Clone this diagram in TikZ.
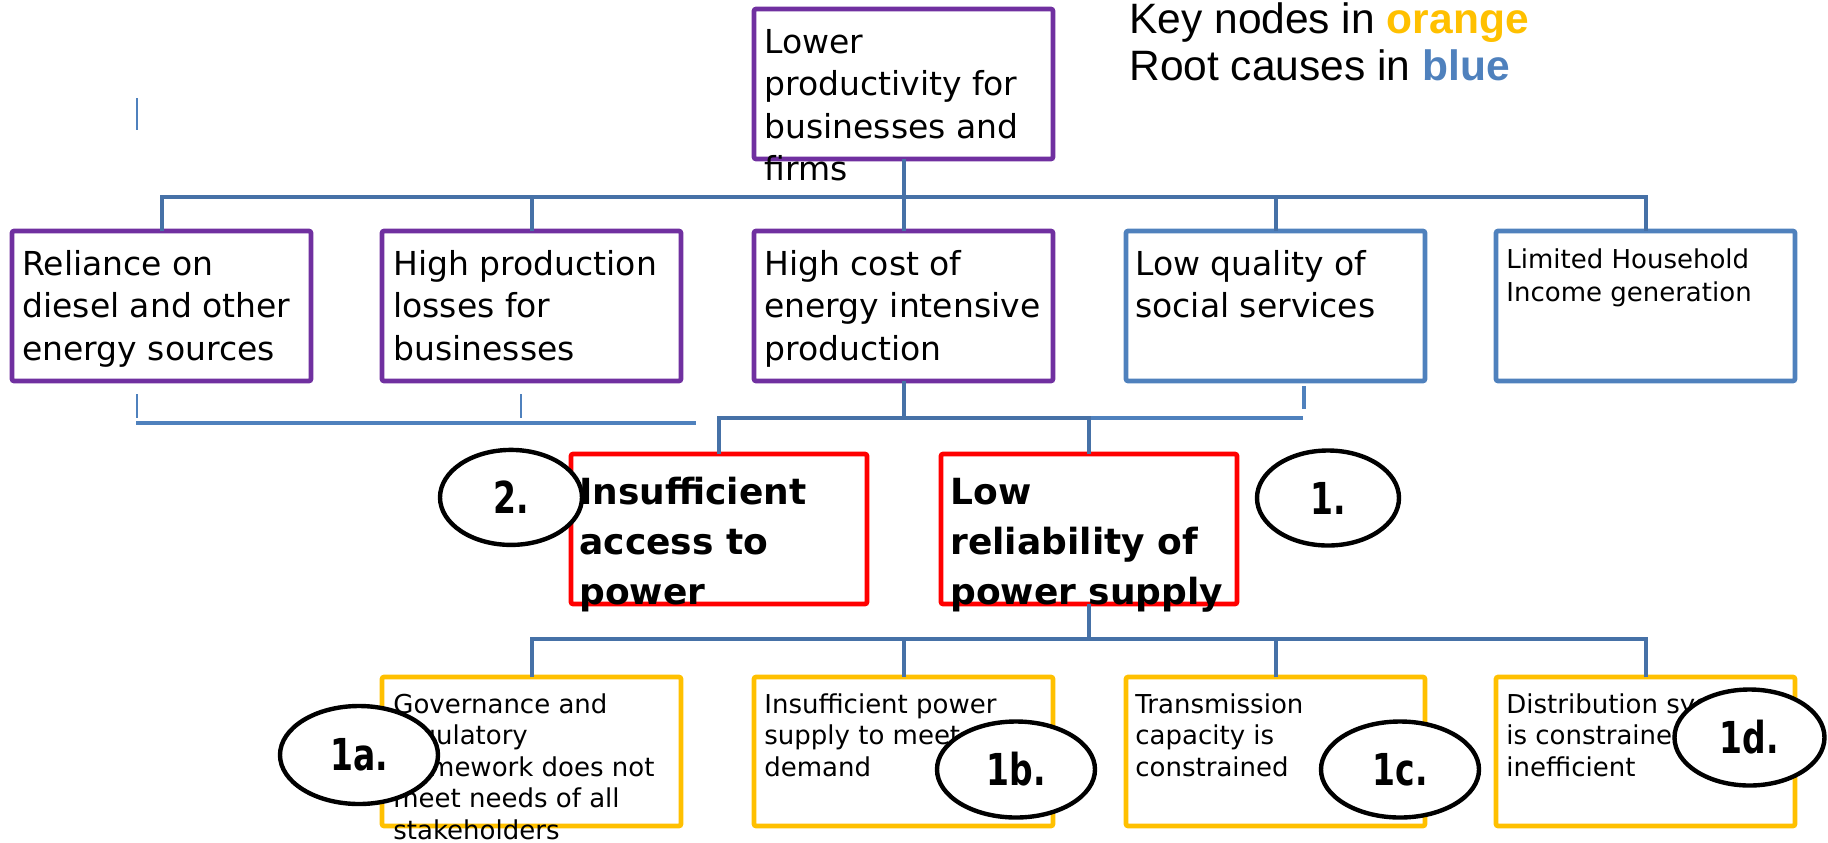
\documentclass[tikz,border=0pt]{standalone}
\usepackage{fontspec}
\setmainfont{DejaVu Sans}
\newfontfamily\legfont{Liberation Sans}
\newfontfamily\numfont[FakeStretch=0.75]{DejaVu Sans}
\usetikzlibrary{shapes.geometric}
\definecolor{purp}{HTML}{7030A0}
\definecolor{rootblue}{HTML}{4F81BD}
\definecolor{korange}{HTML}{FFC000}
\definecolor{kred}{HTML}{FF0000}
\definecolor{connblue}{HTML}{4671A7}
\begin{document}
\begin{tikzpicture}[x=0.5pt,y=-0.5pt,
  boxbase/.style={draw, line width=2.3pt, rounded corners=1pt, fill=white, inner sep=0pt, outer sep=0pt, anchor=north west},
  pbox/.style={boxbase, draw=purp, minimum width=149.5pt, minimum height=75pt},
  bbox/.style={boxbase, draw=rootblue, minimum width=149.5pt, minimum height=75pt},
  rbox/.style={boxbase, draw=kred, minimum width=148pt, minimum height=75pt},
  obox/.style={boxbase, draw=korange, minimum width=149.5pt, minimum height=74.5pt},
  conn/.style={draw=connblue, line width=2pt},
  stray/.style={draw=rootblue, line width=2.4pt},
  thinstray/.style={draw=rootblue, line width=1.1pt},
  txtbase/.style={anchor=north west, inner sep=0pt, align=left},
  btxt/.style={txtbase, font=\fontsize{16.5}{21.25}\selectfont},
  stxt/.style={txtbase, font=\fontsize{13}{16.5}\selectfont},
  rtxt/.style={txtbase, font=\bfseries\fontsize{18}{25}\selectfont},
  otxt/.style={txtbase, font=\fontsize{13}{15.75}\selectfont},
  legend/.style={anchor=base west, inner sep=0pt, font=\legfont\fontsize{21.25}{23.35}\selectfont},
  ell/.style={ellipse, draw=black, line width=2.2pt, fill=white, inner sep=0pt,
    font=\numfont\bfseries\fontsize{22}{22}\selectfont}
]
\useasboundingbox (0,0) rectangle (1828,842);

% bus levels
\coordinate (y1) at (0,197);
\coordinate (y2) at (0,418);
\coordinate (y3) at (0,639);

% stray marks (free ends)
\coordinate (s1a) at (137,98);
\coordinate (s1b) at (137,130);
\coordinate (s2a) at (136,423);
\coordinate (s2b) at (696,423);
\coordinate (s3a) at (137,394);
\coordinate (s3b) at (137,418);
\coordinate (s4a) at (521,394);
\coordinate (s4b) at (521,418);
\coordinate (s5a) at (1080,418);
\coordinate (s5b) at (1303,418);
\coordinate (s6a) at (1304,386);
\coordinate (s6b) at (1304,409);

\draw[thinstray] (s1a) -- (s1b);
\draw[stray] (s2a) -- (s2b);
\draw[thinstray] (s3a) -- (s3b);
\draw[thinstray] (s4a) -- (s4b);
\draw[stray] (s5a) -- (s5b);
\draw[stray] (s6a) -- (s6b);

% boxes
\node[pbox] (T) at (754,9) {};
\node[pbox] (B1) at (12,231) {};
\node[pbox] (B2) at (382,231) {};
\node[pbox] (B3) at (754,231) {};
\node[bbox] (B4) at (1126,231) {};
\node[bbox] (B5) at (1496,231) {};
\node[rbox] (R1) at (571,454) {};
\node[rbox] (R2) at (941,454) {};
\node[obox] (O1) at (382,677) {};
\node[obox] (O2) at (754,677) {};
\node[obox] (O3) at (1126,677) {};
\node[obox] (O4) at (1496,677) {};

% junctions
\coordinate (j1) at (T.south |- y1);
\coordinate (j2) at (B3.south |- y2);
\coordinate (j3) at (R2.south |- y3);

% connectors
\draw[conn] (T.south) -- (j1);
\foreach \b in {B1,B2,B3,B4,B5} \draw[conn] (\b.north) |- (j1);
\draw[conn] (B3.south) -- (j2);
\draw[conn] (R1.north) |- (j2);
\draw[conn] (R2.north) |- (j2);
\draw[conn] (R2.south) -- (j3);
\foreach \b in {O1,O2,O3,O4} \draw[conn] (\b.north) |- (j3);

% texts
\node[btxt] (tT) at (764,23) {\rule{0pt}{15pt}Lower\\productivity for\\businesses and\\firms};
\node[btxt] (tB1) at (22,245) {\rule{0pt}{15pt}Reliance on\\diesel and other\\energy sources};
\node[btxt] (tB2) at (393,245) {\rule{0pt}{15pt}High production\\losses for\\businesses};
\node[btxt] (tB3) at (764,245) {\rule{0pt}{15pt}High cost of\\energy intensive\\production};
\node[btxt] (tB4) at (1135,245) {\rule{0pt}{15pt}Low quality of\\social services};
\node[stxt] (tB5) at (1506,244) {\rule{0pt}{12pt}Limited Household\\Income generation};
\node[rtxt] (tR1) at (579,470) {\rule{0pt}{17pt}Insufficient\\access to\\power};
\node[rtxt] (tR2) at (950,470) {\rule{0pt}{17pt}Low\\reliability of\\power supply};
\node[otxt] (tO1) at (393,689) {\rule{0pt}{12pt}Governance and\\regulatory\\framework does not\\meet needs of all\\stakeholders};
\node[otxt] (tO2) at (764,689) {\rule{0pt}{12pt}Insufficient power\\supply to meet\\demand};
\node[otxt] (tO3) at (1135,689) {\rule{0pt}{12pt}Transmission\\capacity is\\constrained};
\node[otxt] (tO4) at (1506,689) {\rule{0pt}{12pt}Distribution system\\is constrained and\\inefficient};

% legend
\node[legend] (L1) at (1129,33) {Key nodes in \textbf{\color{korange}orange}};
\node[legend] (L2) at (1129,80) {Root causes in \textbf{\color{rootblue}blue}};

% numbered ellipses
\node[ell, minimum width=71pt, minimum height=47.5pt] (E2) at (511,497.4) {2.};
\node[ell, minimum width=71pt, minimum height=47.5pt] (E1) at (1328,498) {1.};
\node[ell, minimum width=79pt, minimum height=49pt] (E1a) at (359,755) {1a.};
\node[ell, minimum width=79pt, minimum height=48pt] (E1b) at (1016,769.5) {1b.};
\node[ell, minimum width=79pt, minimum height=48pt] (E1c) at (1400,769.5) {1c.};
\node[ell, minimum width=75pt, minimum height=48pt] (E1d) at (1749.5,737.5) {1d.};
\end{tikzpicture}
\end{document}
